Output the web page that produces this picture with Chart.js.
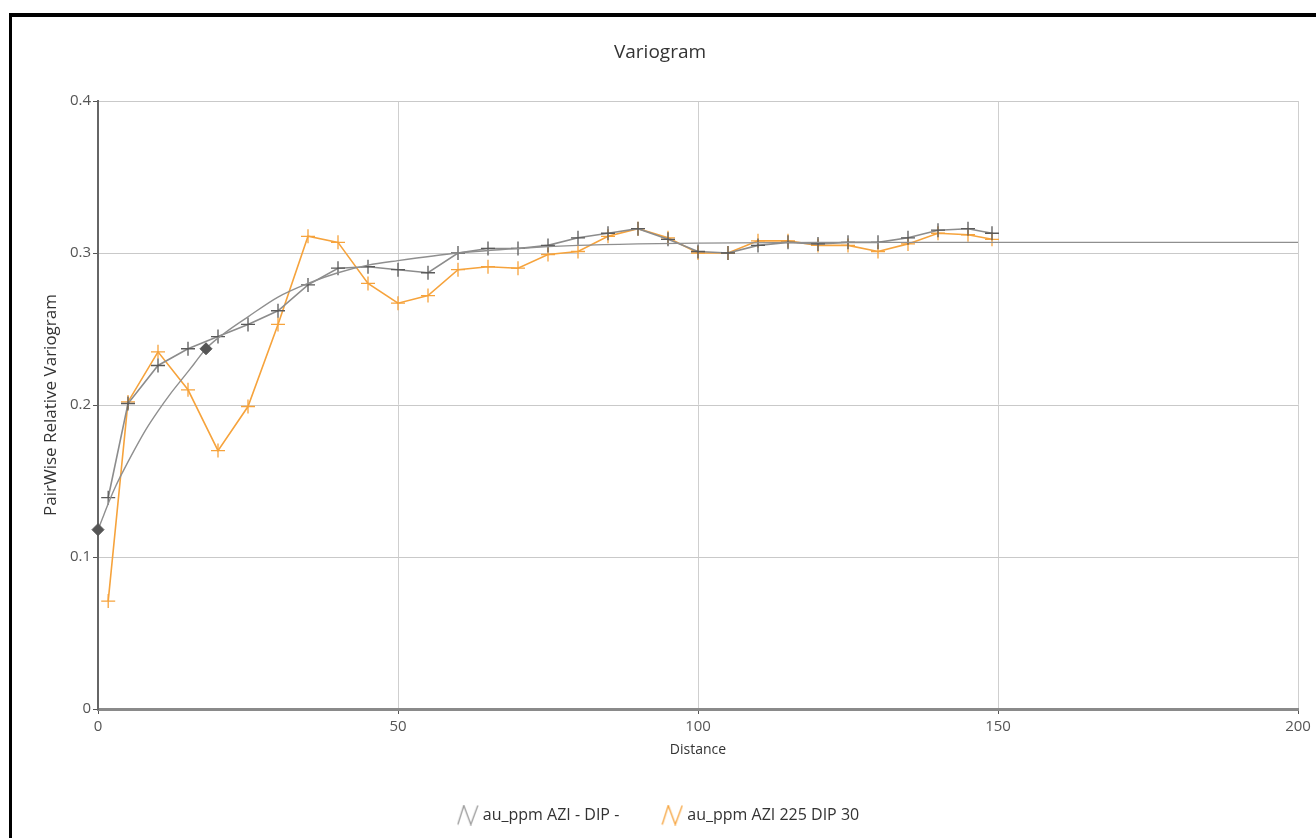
<!DOCTYPE html>
<html>
<head>
<meta charset="utf-8">
<title>Variogram</title>
<script src="https://cdn.jsdelivr.net/npm/chart.js@4.4.1/dist/chart.umd.min.js"></script>
<style>
  html, body { margin: 0; padding: 0; background: #fff; }
  #wrap { position: relative; width: 1316px; height: 838px; overflow: hidden; }
  #c { position: absolute; left: 0; top: 0; }
  #frame { position: absolute; left: 9px; top: 13px; right: -10px; bottom: -10px;
           border-top: 4px solid #000; border-left: 3px solid #000; pointer-events: none; }
</style>
</head>
<body>
<div id="wrap">
  <canvas id="c" width="1316" height="838"></canvas>
  <div id="frame"></div>
</div>
<script>
// Experimental variogram lags (distance)
const lagDistance = [1.7, 5, 10, 15, 20, 25, 30, 35, 40, 45, 50, 55, 60, 65, 70, 75,
  80, 85, 90, 95, 100, 105, 110, 115, 120, 125, 130, 135, 140, 145, 149];

// Omnidirectional experimental variogram
const variogramOmni = [0.139, 0.201, 0.226, 0.237, 0.245, 0.253, 0.262, 0.279, 0.290,
  0.291, 0.289, 0.287, 0.300, 0.303, 0.303, 0.305, 0.310, 0.313, 0.316, 0.309, 0.301,
  0.300, 0.305, 0.307, 0.306, 0.307, 0.307, 0.310, 0.315, 0.316, 0.313];

// Directional experimental variogram, azimuth 225 / dip 30
const variogram225 = [0.071, 0.202, 0.235, 0.210, 0.170, 0.199, 0.253, 0.311, 0.307,
  0.280, 0.267, 0.272, 0.289, 0.291, 0.290, 0.299, 0.301, 0.311, 0.316, 0.310, 0.300,
  0.300, 0.308, 0.308, 0.305, 0.305, 0.301, 0.306, 0.313, 0.312, 0.309];

// Fitted model curve
const modelDistance = [0, 1, 2, 3, 4, 6, 8, 10, 12, 14, 16, 18, 21, 25, 30, 35, 40, 45,
  50, 60, 70, 80, 90, 100, 120, 150, 200];
const modelValue = [0.118, 0.128, 0.138, 0.147, 0.155, 0.170, 0.184, 0.196, 0.207, 0.217,
  0.227, 0.237, 0.247, 0.258, 0.271, 0.280, 0.287, 0.292, 0.295, 0.300, 0.303, 0.305,
  0.306, 0.3065, 0.307, 0.307, 0.307];
// Model handles (nugget and control point)
const modelMarkers = [0, 18];

const seriesLabels = ['au_ppm AZI - DIP -', 'au_ppm AZI 225 DIP 30'];
const xTickValues = [0, 50, 100, 150, 200];
const yTickValues = [0, 0.1, 0.2, 0.3, 0.4];

const GREY_LINE = '#8c8c8c';
const GREY_MARK = '#5a5a5a';
const ORANGE = '#f6a33c';
const FONT = '"Open Sans", "Noto Sans", sans-serif';

const toPoints = (xs, ys) => xs.map((x, i) => ({ x, y: ys[i] }));

// Small "/\/" line glyph used as the legend symbol
function zigzagIcon(color) {
  const cv = document.createElement('canvas');
  cv.width = 22; cv.height = 21;
  const g = cv.getContext('2d');
  g.strokeStyle = color;
  g.lineWidth = 1.3;
  g.lineJoin = 'miter';
  g.beginPath();
  g.moveTo(1, 20);
  g.lineTo(7, 1);
  g.lineTo(14, 20);
  g.lineTo(21, 1);
  g.stroke();
  return cv;
}
const legendIcons = [zigzagIcon('#9a9a9a'), zigzagIcon(ORANGE)];

const chart = new Chart(document.getElementById('c'), {
  type: 'scatter',
  data: {
    datasets: [
      {
        label: seriesLabels[0],
        data: toPoints(lagDistance, variogramOmni),
        showLine: true,
        borderColor: GREY_LINE,
        borderWidth: 1.6,
        pointStyle: 'cross',
        pointRadius: 7,
        pointBorderColor: GREY_MARK,
        pointBorderWidth: 1.3,
        order: 2
      },
      {
        label: seriesLabels[1],
        data: toPoints(lagDistance, variogram225),
        showLine: true,
        borderColor: ORANGE,
        borderWidth: 1.6,
        pointStyle: 'cross',
        pointRadius: 7,
        pointBorderColor: ORANGE,
        pointBorderWidth: 1.3,
        order: 3
      },
      {
        label: 'model',
        data: toPoints(modelDistance, modelValue),
        showLine: true,
        clip: false,
        borderColor: '#8f8f8f',
        borderWidth: 1.4,
        cubicInterpolationMode: 'monotone',
        pointStyle: 'rectRot',
        pointRadius: modelDistance.map(d => modelMarkers.includes(d) ? 6 : 0),
        pointBackgroundColor: '#555',
        pointBorderColor: '#555',
        pointBorderWidth: 1,
        order: 1
      }
    ]
  },
  options: {
    responsive: false,
    animation: false,
    events: [],
    layout: { padding: { left: 22, right: 18, top: 0, bottom: 5 } },
    plugins: {
      tooltip: { enabled: false },
      title: {
        display: true,
        text: 'Variogram',
        color: '#333',
        font: { family: FONT, size: 19, weight: 'normal' },
        padding: { top: 41, bottom: 37.2 }
      },
      legend: {
        position: 'bottom',
        labels: {
          usePointStyle: true,
          pointStyleWidth: 14,
          padding: 46,
          color: '#333',
          font: { family: FONT, size: 16 },
          generateLabels: (ch) => ch.data.datasets.slice(0, 2).map((ds, i) => ({
            text: ds.label,
            datasetIndex: i,
            pointStyle: legendIcons[i],
            fillStyle: 'transparent',
            strokeStyle: 'transparent',
            lineWidth: 0,
            hidden: false,
            fontColor: '#333'
          }))
        }
      }
    },
    scales: {
      x: {
        type: 'linear',
        min: 0, max: 200,
        afterBuildTicks: (s) => { s.ticks = xTickValues.map(v => ({ value: v })); },
        afterFit: (s) => { s.height = 52; },
        grid: { color: '#cfcfcf', lineWidth: 1, tickLength: 5, tickColor: '#555' },
        border: { color: '#8a8a8a', width: 3 },
        ticks: { color: '#555', padding: 4, maxRotation: 0, font: { family: FONT, size: 15 } },
        title: {
          display: true, text: 'Distance', color: '#333',
          font: { family: FONT, size: 14 }, padding: { top: 0, bottom: 3 }
        }
      },
      y: {
        type: 'linear',
        min: 0, max: 0.4,
        afterBuildTicks: (s) => { s.ticks = yTickValues.map(v => ({ value: v })); },
        afterFit: (s) => { s.width = 76; },
        grid: { color: '#c9c9c9', lineWidth: 1, tickLength: 5, tickColor: '#555' },
        border: { color: '#666', width: 2 },
        ticks: { color: '#555', padding: 2, font: { family: FONT, size: 15 },
                 callback: (v) => String(Math.round(v * 10) / 10) },
        title: {
          display: true, text: 'PairWise Relative Variogram', color: '#333',
          font: { family: FONT, size: 17 }, padding: { top: 19, bottom: 0 }
        }
      }
    }
  }
});
</script>
</body>
</html>
